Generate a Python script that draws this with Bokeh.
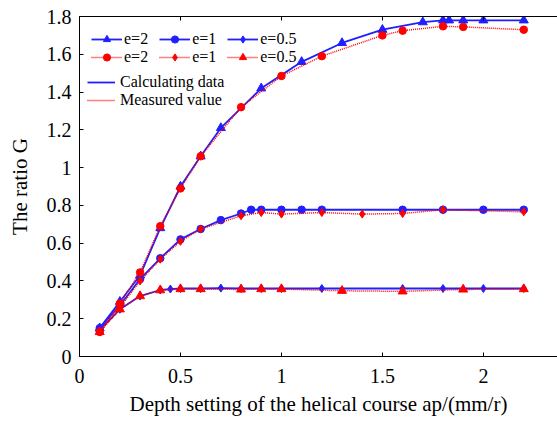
from bokeh.plotting import figure
from bokeh.models import Range1d, FixedTicker, LinearAxis, Legend, LegendItem
from bokeh.embed import file_html
from bokeh.resources import INLINE

FONT = "'Liberation Serif', 'Times New Roman', serif"

# ---- data ----
x_calc_e2 = [0.1, 0.2, 0.3, 0.4, 0.5, 0.6, 0.7, 0.9, 1.1, 1.3, 1.5, 1.7, 1.8, 1.83, 1.9, 2.0, 2.2]
y_calc_e2 = [0.15, 0.29, 0.43, 0.68, 0.90, 1.06, 1.21, 1.42, 1.56, 1.66, 1.73, 1.77, 1.78, 1.78, 1.78, 1.78, 1.78]

x_meas_e2 = [0.1, 0.2, 0.3, 0.4, 0.5, 0.6, 0.8, 1.0, 1.2, 1.5, 1.6, 1.8, 1.9, 2.2]
y_meas_e2 = [0.13, 0.28, 0.445, 0.69, 0.89, 1.06, 1.32, 1.485, 1.59, 1.70, 1.725, 1.748, 1.745, 1.73]

x_calc_e1 = [0.1, 0.2, 0.3, 0.4, 0.5, 0.6, 0.7, 0.8, 0.85, 0.9, 1.0, 1.1, 1.2, 1.6, 1.8, 2.0, 2.2]
y_calc_e1 = [0.15, 0.27, 0.41, 0.52, 0.62, 0.675, 0.722, 0.757, 0.777, 0.777, 0.777, 0.777, 0.777, 0.777, 0.777, 0.777, 0.777]

x_meas_e1 = [0.1, 0.2, 0.3, 0.4, 0.5, 0.6, 0.8, 0.9, 1.0, 1.2, 1.4, 1.6, 1.8, 2.2]
y_meas_e1 = [0.13, 0.26, 0.40, 0.515, 0.61, 0.675, 0.745, 0.762, 0.754, 0.762, 0.754, 0.757, 0.777, 0.766]

x_calc_e05 = [0.1, 0.2, 0.3, 0.4, 0.45, 0.5, 0.6, 0.7, 0.8, 0.9, 1.0, 1.2, 1.6, 1.8, 2.0, 2.2]
y_calc_e05 = [0.14, 0.25, 0.32, 0.352, 0.357, 0.36, 0.36, 0.362, 0.36, 0.36, 0.36, 0.36, 0.36, 0.36, 0.36, 0.36]

x_meas_e05 = [0.1, 0.2, 0.3, 0.4, 0.5, 0.6, 0.8, 0.9, 1.0, 1.3, 1.6, 1.9, 2.2]
y_meas_e05 = [0.13, 0.25, 0.32, 0.351, 0.357, 0.357, 0.355, 0.357, 0.357, 0.348, 0.345, 0.355, 0.357]

x_ticks = [0, 0.5, 1, 1.5, 2]
x_tick_labels = ["0", "0.5", "1", "1.5", "2"]
y_ticks = [0, 0.2, 0.4, 0.6, 0.8, 1.0, 1.2, 1.4, 1.6, 1.8]
y_tick_labels = ["0", "0.2", "0.4", "0.6", "0.8", "1", "1.2", "1.4", "1.6", "1.8"]

x_title = "Depth setting of the helical course ap/(mm/r)"
y_title = "The ratio G"

BLUE = "#1f1fff"
RED = "#ff0000"

p = figure(width=557, height=423, output_backend="svg", toolbar_location=None,
           x_range=Range1d(0, 2.367), y_range=Range1d(0, 1.8),
           min_border_left=79, min_border_right=0, min_border_top=16, min_border_bottom=67)
p.outline_line_color = None
p.xgrid.visible = False
p.ygrid.visible = False
p.background_fill_color = "white"
p.border_fill_color = "white"

def style_axis(ax, ticks, labels, standoff):
    ax.ticker = FixedTicker(ticks=ticks)
    ax.major_label_overrides = {t: l for t, l in zip(ticks, labels)}
    ax.major_tick_in = 4
    ax.major_tick_out = 0
    ax.minor_tick_in = 0
    ax.minor_tick_out = 0
    ax.axis_line_color = "black"
    ax.major_tick_line_color = "black"
    ax.major_label_text_font = FONT
    ax.major_label_text_font_size = "20px"
    ax.major_label_text_color = "black"
    ax.major_label_standoff = standoff
    ax.axis_label_text_font = FONT
    ax.axis_label_text_font_size = "21px"
    ax.axis_label_text_font_style = "normal"
    ax.axis_label_text_color = "black"

style_axis(p.xaxis[0], x_ticks, x_tick_labels, 12)
style_axis(p.yaxis[0], y_ticks, y_tick_labels, 8)
p.xaxis[0].axis_label = x_title
p.xaxis[0].axis_label_standoff = 6
p.yaxis[0].axis_label = y_title
p.yaxis[0].axis_label_standoff = 12

top = LinearAxis()
style_axis(top, x_ticks, x_tick_labels, 0)
top.major_label_text_font_size = "0px"
top.major_label_text_alpha = 0
p.add_layout(top, "above")

# calculated (blue, solid)
l_c2 = p.line(x_calc_e2, y_calc_e2, line_color=BLUE, line_width=1.8)
l_c1 = p.line(x_calc_e1, y_calc_e1, line_color=BLUE, line_width=1.8)
l_c05 = p.line(x_calc_e05, y_calc_e05, line_color=BLUE, line_width=1.8)
s_c2 = p.scatter(x_calc_e2, y_calc_e2, marker="triangle", size=9, color=BLUE)
s_c1 = p.scatter(x_calc_e1, y_calc_e1, marker="circle", size=7.5, color=BLUE)
s_c05 = p.scatter(x_calc_e05, y_calc_e05, marker="diamond", size=8, color=BLUE)

# measured (red, dotted)
l_m2 = p.line(x_meas_e2, y_meas_e2, line_color=RED, line_width=1.5, line_dash="1 1")
l_m1 = p.line(x_meas_e1, y_meas_e1, line_color=RED, line_width=1.5, line_dash="1 1")
l_m05 = p.line(x_meas_e05, y_meas_e05, line_color=RED, line_width=1.5, line_dash="1 1")
s_m2 = p.scatter(x_meas_e2, y_meas_e2, marker="circle", size=7.5, color=RED)
s_m1 = p.scatter(x_meas_e1, y_meas_e1, marker="diamond", size=8, color=RED)
s_m05 = p.scatter(x_meas_e05, y_meas_e05, marker="triangle", size=9, color=RED)

def make_legend(items, loc, orientation, glyph_w, standoff, spacing):
    lg = Legend(items=items, location=loc, orientation=orientation,
                border_line_color=None, background_fill_alpha=0,
                padding=0, margin=0, spacing=spacing,
                glyph_width=glyph_w, glyph_height=18, label_height=18, label_width=5,
                label_standoff=standoff, label_text_font=FONT,
                label_text_font_size="16px", label_text_color="black")
    p.add_layout(lg)
    return lg

make_legend([LegendItem(label="e=2", renderers=[l_c2, s_c2]),
             LegendItem(label="e=1", renderers=[l_c1, s_c1]),
             LegendItem(label="e=0.5", renderers=[l_c05, s_c05])],
            (12, 308), "horizontal", 31, 2, 11)
make_legend([LegendItem(label="e=2", renderers=[l_m2, s_m2]),
             LegendItem(label="e=1", renderers=[l_m1, s_m1]),
             LegendItem(label="e=0.5", renderers=[l_m05, s_m05])],
            (12, 290), "horizontal", 31, 2, 11)
make_legend([LegendItem(label="Calculating data", renderers=[l_c2]),
             LegendItem(label="Measured value", renderers=[l_m2])],
            (8, 247), "vertical", 28, 5, 0)

open("out.html", "w").write(file_html(p, INLINE))
